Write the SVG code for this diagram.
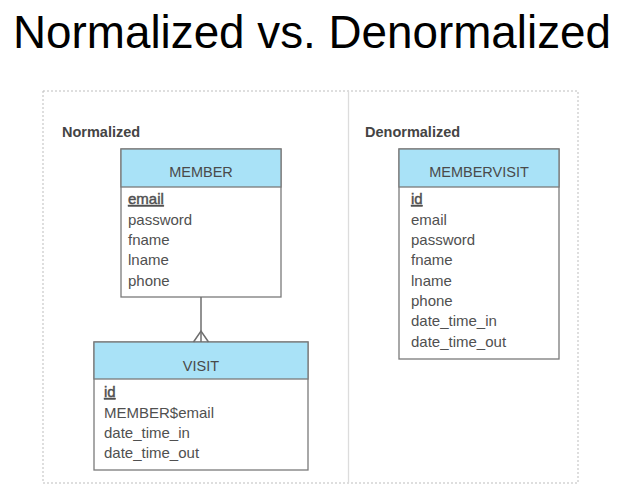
<svg xmlns="http://www.w3.org/2000/svg" width="624" height="492" viewBox="0 0 624 492">
<style>
.title{font-family:"Liberation Sans",Arial,sans-serif;font-size:46px;fill:#000}
.sec{font-family:"Liberation Sans",Arial,sans-serif;font-size:14.5px;font-weight:bold;fill:#444}
.hdr{fill:#a9e2f7;stroke:#7a7a7a;stroke-width:1.3}
.body{fill:#fff;stroke:#7a7a7a;stroke-width:1.3}
.hname{font-family:"Liberation Sans",Arial,sans-serif;font-size:14.5px;fill:#4a4a4a;text-anchor:middle}
.attr{font-family:"Liberation Sans",Arial,sans-serif;font-size:15px;fill:#505050}
.pk{text-decoration:underline;stroke:#505050;stroke-width:0.45}
.conn{stroke:#6e6e6e;stroke-width:1.5;fill:none}
</style>
<rect width="624" height="492" fill="#fff"/>
<text class="title" x="312" y="48" text-anchor="middle" textLength="598" lengthAdjust="spacingAndGlyphs">Normalized vs. Denormalized</text>
<g id="frame">
<rect x="43" y="91" width="535" height="392" fill="none" stroke="#bdbdbd" stroke-width="1" stroke-dasharray="2,2"/>
<line x1="348.5" y1="91" x2="348.5" y2="483" stroke="#dcdcdc" stroke-width="1.3"/>
<text class="sec" x="62" y="137">Normalized</text>
<text class="sec" x="365" y="137">Denormalized</text>
</g>
<g id="member">
<rect class="body" x="121" y="149" width="160" height="148"/>
<rect class="hdr" x="121" y="149" width="160" height="38"/>
<text class="hname" x="201" y="177">MEMBER</text>
<text class="attr pk" x="128" y="204">email</text>
<text class="attr" x="128" y="225">password</text>
<text class="attr" x="128" y="245">fname</text>
<text class="attr" x="128" y="265">lname</text>
<text class="attr" x="128" y="286">phone</text>
</g>
<g id="visit">
<rect class="body" x="94" y="342" width="214" height="128"/>
<rect class="hdr" x="94" y="342" width="214" height="37"/>
<text class="hname" x="201" y="371">VISIT</text>
<text class="attr pk" x="104" y="397">id</text>
<text class="attr" x="104" y="418">MEMBER$email</text>
<text class="attr" x="104" y="438">date_time_in</text>
<text class="attr" x="104" y="458">date_time_out</text>
</g>
<g id="membervisit">
<rect class="body" x="399" y="149" width="160" height="210"/>
<rect class="hdr" x="399" y="149" width="160" height="38"/>
<text class="hname" x="479" y="177">MEMBERVISIT</text>
<text class="attr pk" x="411" y="204">id</text>
<text class="attr" x="411" y="225">email</text>
<text class="attr" x="411" y="245">password</text>
<text class="attr" x="411" y="265">fname</text>
<text class="attr" x="411" y="286">lname</text>
<text class="attr" x="411" y="306">phone</text>
<text class="attr" x="411" y="326">date_time_in</text>
<text class="attr" x="411" y="347">date_time_out</text>
</g>
<g id="connectors">
<line class="conn" x1="201" y1="297" x2="201" y2="342"/>
<polyline class="conn" points="193.5,342 201,331 208.5,342"/>
</g>
</svg>
